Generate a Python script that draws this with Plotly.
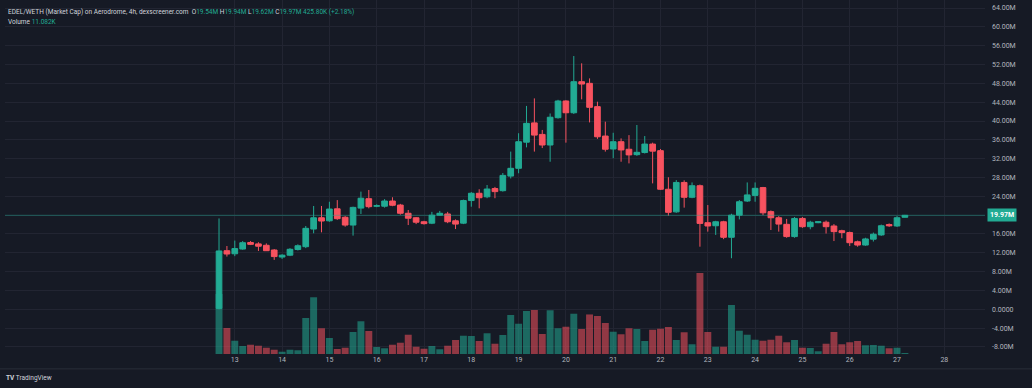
import pandas as pd
import plotly.graph_objects as go

# ---------------- data ----------------
start = "2025-01-12 16:00"
n_bars = 88
dates = pd.date_range(start, periods=n_bars, freq="4h")

opens = [0.2, 12.45, 11.8, 12.8, 14.2, 13.9, 13.6, 12.6, 11.1, 11.5, 12.7, 13.3, 17.05, 19.45, 18.8, 21.35,
         19.55, 17.9, 21.5, 23.5, 21.9, 21.9, 23.0, 22.15, 20.4, 19.45, 18.6, 18.3, 20.0, 20.25, 18.8, 18.3,
         23.1, 24.65, 23.9, 25.65, 25.2, 28.3, 29.95, 35.5, 39.6, 37.15, 34.9, 40.7, 44.25, 41.75, 48.35, 48.0,
         43.05, 36.8, 34.05, 35.6, 34.0, 32.85, 33.3, 35.1, 33.7, 25.5, 20.7, 26.95, 23.8, 26.25, 18.4, 17.75,
         18.6, 15.3, 20.0, 23.0, 24.2, 25.85, 20.75, 19.45, 18.05, 15.45, 19.3, 17.55, 18.4, 18.5, 17.7, 16.7,
         16.3, 14.35, 13.65, 14.9, 15.8, 18.0, 17.7, 19.55]
highs = [19.3, 13.45, 14.6, 14.5, 14.5, 14.25, 14.0, 12.8, 11.7, 13.0, 13.8, 17.7, 21.95, 21.95, 22.85, 23.2,
         19.8, 21.8, 25.0, 25.35, 22.3, 23.4, 23.8, 22.4, 21.1, 19.6, 18.8, 20.7, 20.9, 20.7, 19.1, 23.3,
         24.9, 25.5, 26.4, 26.0, 28.95, 33.5, 37.4, 43.2, 44.8, 38.1, 41.6, 44.5, 44.4, 53.8, 52.25, 49.05,
         44.1, 39.85, 37.5, 36.3, 37.0, 39.15, 36.8, 35.4, 34.05, 28.05, 27.45, 27.4, 26.95, 26.5, 22.15, 18.8,
         18.8, 20.3, 23.2, 26.95, 26.95, 26.0, 21.0, 19.8, 19.2, 19.6, 19.6, 18.8, 18.7, 18.85, 18.1, 16.9,
         16.5, 14.6, 15.2, 16.3, 18.0, 18.25, 19.8, 20.05]
lows = [0.0, 11.2, 11.3, 12.65, 13.65, 12.4, 12.4, 10.5, 10.7, 11.3, 12.5, 13.0, 16.15, 16.35, 18.6, 19.0,
        17.55, 15.65, 20.25, 21.45, 21.7, 21.6, 21.9, 20.1, 17.9, 18.1, 18.0, 18.1, 19.9, 18.3, 17.05, 18.1,
        21.8, 21.45, 23.6, 23.6, 25.0, 27.8, 28.9, 34.4, 33.5, 34.25, 31.35, 40.5, 35.4, 41.5, 44.6, 39.7,
        36.2, 33.5, 32.1, 31.35, 31.0, 32.6, 33.1, 26.75, 25.35, 19.9, 20.5, 21.6, 23.6, 13.3, 16.5, 15.8,
        14.9, 10.85, 19.1, 22.8, 22.85, 20.0, 16.85, 16.5, 15.2, 15.2, 17.3, 17.0, 18.3, 16.1, 14.5, 15.1,
        13.45, 13.3, 13.5, 14.4, 15.6, 17.5, 17.5, 19.5]
closes = [12.4, 11.75, 12.9, 14.15, 13.8, 13.4, 12.45, 11.2, 11.5, 12.75, 13.5, 17.2, 19.45, 18.75, 21.3, 19.25,
          17.9, 21.65, 23.6, 21.8, 22.0, 23.0, 22.1, 20.4, 19.35, 18.5, 18.2, 20.0, 20.4, 18.6, 18.1, 23.1,
          24.65, 23.7, 25.55, 25.0, 28.45, 29.95, 35.6, 39.5, 37.0, 34.9, 40.8, 44.25, 41.75, 48.35, 47.85, 42.9,
          36.65, 34.0, 35.6, 33.85, 32.8, 33.35, 35.1, 33.6, 25.5, 20.6, 26.95, 23.8, 26.25, 18.25, 17.7, 18.6,
          15.3, 20.0, 22.85, 24.3, 25.7, 20.5, 19.45, 18.1, 15.45, 19.3, 17.55, 18.5, 18.6, 17.55, 16.5, 16.3,
          14.15, 13.65, 14.95, 15.95, 17.75, 17.75, 19.45, 19.97]
volume_k = [660, 286, 146, 88, 102, 91, 69, 47, 25, 47, 41, 396, 624, 283, 176, 55,
            69, 242, 360, 253, 77, 63, 102, 124, 212, 80, 58, 88, 52, 91, 154, 201,
            198, 143, 228, 113, 209, 429, 333, 473, 484, 220, 481, 283, 300, 443, 275, 435,
            418, 341, 245, 217, 283, 275, 143, 267, 278, 297, 154, 239, 107, 891, 242, 80,
            80, 539, 256, 212, 157, 146, 157, 201, 129, 154, 69, 66, 30, 113, 242, 107,
            129, 143, 96, 99, 91, 63, 69, 11]

price_ticks = [-8, -4, 0, 4, 8, 12, 16, 20, 24, 28, 32, 36, 40, 44, 48, 52, 56, 60, 64]
price_tick_text = ["-8.00M", "-4.00M", "0.0000", "4.00M", "8.00M", "12.00M", "16.00M", "20.00M", "24.00M",
                   "28.00M", "32.00M", "36.00M", "40.00M", "44.00M", "48.00M", "52.00M", "56.00M", "60.00M", "64.00M"]
day_ticks = pd.date_range("2025-01-13", "2025-01-28", freq="D")
day_tick_text = [str(d.day) for d in day_ticks]
last_price = 19.97

# ---------------- style ----------------
UP = "#22ab94"
DOWN = "#f7525f"
UP_V = "rgba(34,171,148,0.55)"
DOWN_V = "rgba(247,82,95,0.55)"
BG = "#161a25"
GRID = "#222532"
TXT = "#b2b5be"
FONT = "Roboto"

vol_colors = [UP_V if c >= o else DOWN_V for o, c in zip(opens, closes)]

fig = go.Figure()
fig.add_trace(go.Bar(x=dates, y=volume_k, marker=dict(color=vol_colors, line=dict(width=0)),
                     yaxis="y", showlegend=False, hoverinfo="skip"))
fig.add_trace(go.Candlestick(
    x=dates, open=opens, high=highs, low=lows, close=closes, yaxis="y2",
    increasing=dict(line=dict(color=UP, width=1), fillcolor=UP),
    decreasing=dict(line=dict(color=DOWN, width=1), fillcolor=DOWN),
    whiskerwidth=0, showlegend=False))

day13 = pd.Timestamp("2025-01-13")
x0 = day13 - pd.Timedelta(hours=4.858 * 24)
x1 = day13 + pd.Timedelta(hours=15.86 * 24)

fig.update_layout(
    width=1032, height=388,
    margin=dict(l=5, r=47, t=0, b=34),
    paper_bgcolor=BG, plot_bgcolor=BG,
    font=dict(family=FONT, size=7, color=TXT),
    bargap=0.12, boxgap=0.28, boxgroupgap=0,
    showlegend=False,
    xaxis=dict(type="date", range=[str(x0), str(x1)], tickvals=list(day_ticks), ticktext=day_tick_text,
               showgrid=True, gridcolor=GRID, gridwidth=1, zeroline=False, showline=False, ticks="",
               rangeslider=dict(visible=False), tickfont=dict(size=7, color=TXT, family=FONT)),
    yaxis=dict(range=[0, 3894], visible=False, showgrid=False, zeroline=False),
    yaxis2=dict(overlaying="y", side="right", range=[-9.49, 65.70], tickvals=price_ticks,
                ticktext=price_tick_text, showgrid=True, gridcolor=GRID, gridwidth=1, zeroline=False,
                showline=False, ticks="", ticklabelstandoff=6,
                tickfont=dict(size=7, color=TXT, family=FONT)),
)

# last price line and label
fig.add_shape(type="line", xref="paper", x0=0, x1=1, yref="y2", y0=last_price, y1=last_price,
              line=dict(color="rgba(34,171,148,0.45)", width=1))
fig.add_annotation(xref="paper", x=1, xanchor="left", xshift=2, yref="y2", y=last_price,
                   text="<b>19.97M</b>", showarrow=False, bgcolor=UP, borderpad=2,
                   font=dict(size=7, color="#ffffff", family=FONT))

# header legend
hdr = ("EDEL/WETH (Market Cap) on Aerodrome, 4h, dexscreener.com&nbsp;&nbsp;"
       "O<span style='color:%s'>19.54M</span> H<span style='color:%s'>19.94M</span> "
       "L<span style='color:%s'>19.62M</span> C<span style='color:%s'>19.97M</span> "
       "<span style='color:%s'>425.80K (+2.18%%)</span>") % (UP, UP, UP, UP, UP)
fig.add_annotation(xref="paper", x=0, xanchor="left", xshift=1, yref="paper", y=1, yanchor="top",
                   yshift=-6, text=hdr, showarrow=False, font=dict(size=6.5, color="#d1d4dc", family=FONT))
fig.add_annotation(xref="paper", x=0, xanchor="left", xshift=1, yref="paper", y=1, yanchor="top",
                   yshift=-16, text="Volume <span style='color:%s'>11.082K</span>" % UP, showarrow=False,
                   font=dict(size=6.5, color="#d1d4dc", family=FONT))

# bottom separator and footer
fig.add_shape(type="line", xref="paper", x0=-0.01, x1=1.05, yref="paper", y0=-0.042, y1=-0.042,
              line=dict(color="#2a2e39", width=1))
fig.add_annotation(xref="paper", x=0, xanchor="left", xshift=-1, yref="paper", y=0, yanchor="middle",
                   yshift=-24, text="<b>TV</b> TradingView", showarrow=False,
                   font=dict(size=6.5, color="#d1d4dc", family=FONT))

fig.write_html("out.html", config={"displayModeBar": False},
               post_script="document.body.style.margin='0';document.body.style.overflow='hidden';")
